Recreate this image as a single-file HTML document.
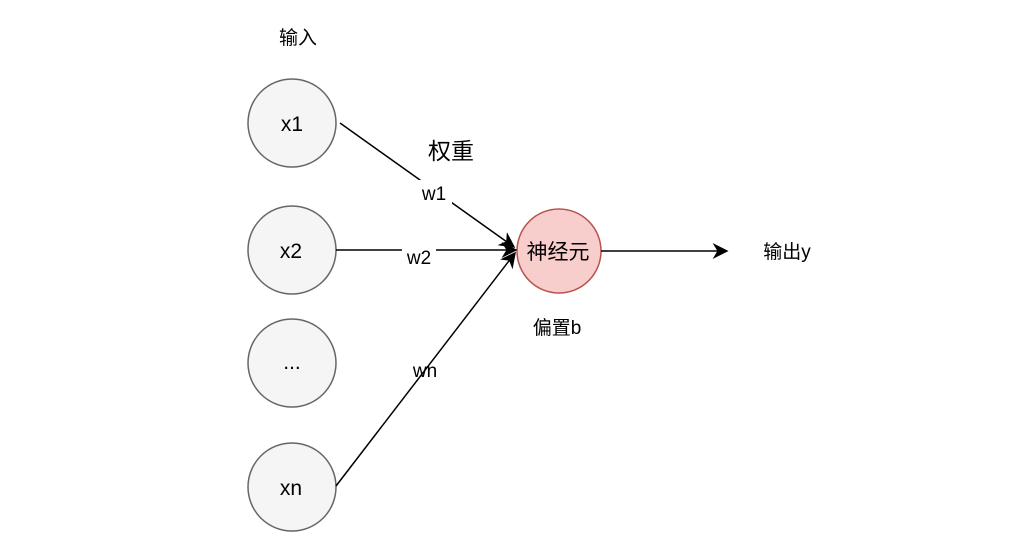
<!DOCTYPE html>
<html><head><meta charset="utf-8"><style>
body{margin:0;background:#fff;width:1030px;height:554px;overflow:hidden}
svg text{font-family:"Liberation Sans","Noto Sans CJK SC",sans-serif;fill:#000}
</style></head><body>
<svg width="1030" height="554" viewBox="0 0 1030 554">
<defs><marker id="b" viewBox="0 0 10 10" refX="9" refY="5" markerWidth="16" markerHeight="16" markerUnits="userSpaceOnUse" orient="auto"><path d="M0,0 L10,5 L0,10 L3,5 z" fill="#000"/></marker></defs>
<text x="298" y="44" font-size="19" text-anchor="middle">输入</text>
<g fill="#f5f5f5" stroke="#666" stroke-width="1.5">
<circle cx="292" cy="123" r="44"/><circle cx="292" cy="250" r="44"/>
<circle cx="292" cy="363" r="44"/><circle cx="292" cy="487" r="44"/></g>
<circle cx="559" cy="251" r="42" fill="#f8cecc" stroke="#b85450" stroke-width="1.5"/>
<g font-size="21" text-anchor="middle">
<text x="292" y="131">x1</text><text x="291" y="258">x2</text><text x="292" y="369">...</text><text x="291" y="495">xn</text>
<text x="558" y="259">神经元</text></g>
<g stroke="#000" stroke-width="1.5" fill="none">
<line x1="340" y1="123" x2="514" y2="247" marker-end="url(#b)"/>
<line x1="336" y1="250" x2="516" y2="250" marker-end="url(#b)"/>
<line x1="336" y1="486" x2="515" y2="253" marker-end="url(#b)"/>
<line x1="601" y1="251" x2="727" y2="251" marker-end="url(#b)"/></g>
<rect x="416" y="180" width="36" height="24" fill="#fff"/>
<rect x="402" y="245" width="34" height="22" fill="#fff"/>
<g font-size="19" text-anchor="middle">
<text x="434" y="200">w1</text><text x="419" y="264">w2</text><text x="425" y="377">wn</text>
<text x="787" y="258">输出y</text><text x="557" y="334">偏置b</text></g>
<text x="451" y="159" font-size="23" text-anchor="middle">权重</text>
</svg>
</body></html>
